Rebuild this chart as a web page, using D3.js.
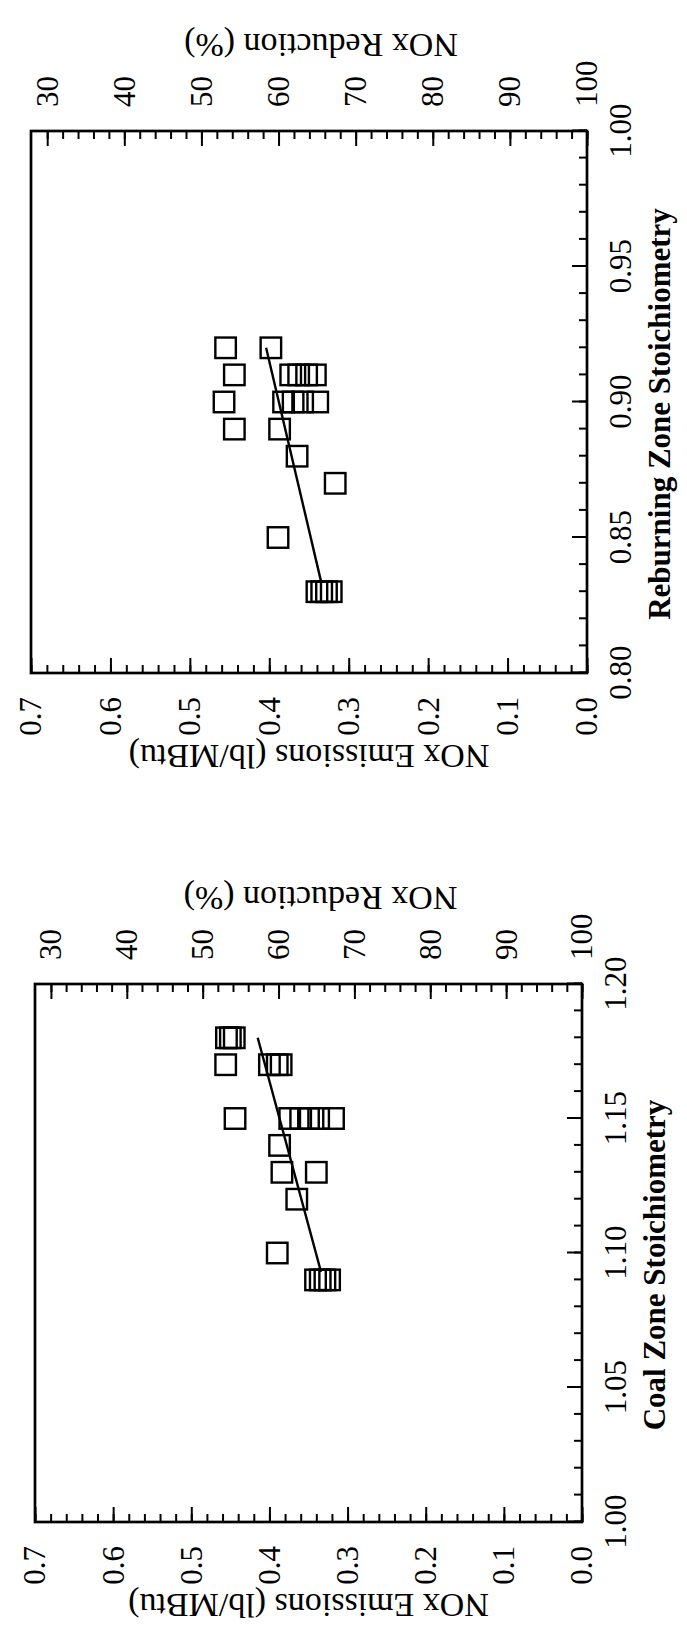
<!DOCTYPE html>
<html><head><meta charset="utf-8">
<script src="https://cdn.jsdelivr.net/npm/d3@7"></script>
<style>
body{margin:0;background:#fff;}
svg text{font-family:"Liberation Serif","Times New Roman",serif;fill:#000;}
</style>
</head><body>
<svg id="c" width="687" height="1637"></svg>
<script>
// ---- Data: Reburning zone panel (top) ----
const reburnStoich = [0.92,0.92,0.91,0.91,0.91,0.91,0.91,0.90,0.90,0.90,0.90,0.90,0.89,0.89,0.88,0.87,0.85,0.83,0.83,0.83,0.83];
const reburnNOx    = [0.455,0.398,0.444,0.373,0.363,0.353,0.342,0.457,0.382,0.370,0.358,0.339,0.444,0.387,0.365,0.317,0.389,0.340,0.334,0.328,0.322];
const reburnFitStoich = [0.834,0.92];
const reburnFitNOx    = [0.335,0.404];
const reburnTicks = [0.80,0.85,0.90,0.95,1.00];

// ---- Data: Coal zone panel (bottom) ----
const coalStoich = [1.18,1.18,1.18,1.17,1.17,1.17,1.17,1.15,1.15,1.15,1.15,1.15,1.15,1.14,1.13,1.13,1.12,1.10,1.09,1.09,1.09,1.09];
const coalNOx    = [0.455,0.450,0.445,0.456,0.400,0.390,0.385,0.444,0.374,0.360,0.350,0.337,0.318,0.387,0.384,0.340,0.365,0.390,0.341,0.335,0.329,0.323];
const coalFitStoich = [1.093,1.18];
const coalFitNOx    = [0.334,0.415];
const coalTicks = [1.00,1.05,1.10,1.15,1.20];

// ---- Shared axes ----
const emissionTicks  = [0.0,0.1,0.2,0.3,0.4,0.5,0.6,0.7];
const reductionTicks = [30,40,50,60,70,80,90,100];
const reductionDomain = [27.9,100];

const svg = d3.select("#c");

function panel(o){
  const W = o.bottom - o.top;   // stoichiometry axis length (local x)
  const H = o.right - o.left;   // emission axis length (local y)
  const g = svg.append("g").attr("transform",`translate(${o.left},${o.bottom}) rotate(-90)`);
  const x = d3.scaleLinear().domain([o.ticks[0], o.ticks[o.ticks.length-1]]).range([0,W]);
  const y = d3.scaleLinear().domain([0,0.7]).range([H,0]);
  const yR = d3.scaleLinear().domain(reductionDomain).range([0,H]);
  const fs = 31;

  function styleAxis(sel){
    sel.select(".domain").remove();
    sel.selectAll(".tick line").attr("stroke","#000").attr("stroke-width",2);
    sel.selectAll("text").attr("font-size",fs).attr("font-family","Liberation Serif, serif").attr("fill","#000");
    sel.attr("font-family",null).attr("font-size",null);
  }
  // minor ticks
  const x0 = o.ticks[0], x1 = o.ticks[o.ticks.length-1];
  const xMinor = d3.range(0,21).map(i=>x0 + i*(x1-x0)/20);
  const eMinor = d3.range(0,36).map(i=>i*0.02);
  const rMinor = d3.range(0,36).map(i=>30+i*2);
  g.append("g").attr("transform",`translate(0,${H})`).call(d3.axisBottom(x).tickValues(xMinor).tickSize(-8).tickSizeOuter(0).tickFormat("")).call(styleAxis);
  g.append("g").call(d3.axisLeft(y).tickValues(eMinor).tickSize(-8).tickSizeOuter(0).tickFormat("")).call(styleAxis);
  g.append("g").attr("transform",`translate(${W},0)`).call(d3.axisRight(yR).tickValues(rMinor).tickSize(-8).tickSizeOuter(0).tickFormat("")).call(styleAxis);
  // major ticks + labels
  g.append("g").attr("transform",`translate(0,${H})`).call(d3.axisBottom(x).tickValues(o.ticks).tickSize(-15).tickSizeOuter(0).tickPadding(22).tickFormat(d3.format(".2f"))).call(styleAxis);
  g.append("g").call(d3.axisLeft(y).tickValues(emissionTicks).tickSize(-15).tickSizeOuter(0).tickPadding(24).tickFormat(d3.format(".1f"))).call(styleAxis);
  g.append("g").attr("transform",`translate(${W},0)`).call(d3.axisRight(yR).tickValues(reductionTicks).tickSize(-15).tickSizeOuter(0).tickPadding(24).tickFormat(d3.format("d"))).call(styleAxis);

  // frame
  g.append("rect").attr("x",0).attr("y",0).attr("width",W).attr("height",H)
    .attr("fill","none").attr("stroke","#000").attr("stroke-width",2.7);

  // titles
  g.append("text").attr("transform",`translate(${-80},${H/2}) rotate(-90)`)
    .attr("text-anchor","middle").attr("dominant-baseline","middle").attr("font-size",34)
    .text("NOx Emissions (lb/MBtu)");
  g.append("text").attr("transform",`translate(${W+89},${H/2+12}) rotate(-90)`)
    .attr("text-anchor","middle").attr("dominant-baseline","middle").attr("font-size",34)
    .text("NOx Reduction (%)");
  g.append("text").attr("x",W/2-12).attr("y",H+76)
    .attr("text-anchor","middle").attr("dominant-baseline","middle").attr("font-size",31).attr("font-weight","bold")
    .text(o.title);

  // points
  const pts = o.sx.map((s,i)=>({s, e:o.ny[i]}));
  const sq = 20.5;
  g.append("g").selectAll("rect").data(pts).join("rect")
    .attr("x",d=>x(d.s)-sq/2).attr("y",d=>y(d.e)-sq/2).attr("width",sq).attr("height",sq)
    .attr("fill","none").attr("stroke","#000").attr("stroke-width",2.4);

  // fit line
  const fit = o.fx.map((s,i)=>[s,o.fy[i]]);
  g.append("path").datum(fit).attr("d",d3.line().x(d=>x(d[0])).y(d=>y(d[1])))
    .attr("fill","none").attr("stroke","#000").attr("stroke-width",2.4);
}

panel({left:31,right:587,top:131,bottom:673,ticks:reburnTicks,title:"Reburning Zone Stoichiometry",
       sx:reburnStoich,ny:reburnNOx,fx:reburnFitStoich,fy:reburnFitNOx});
panel({left:35,right:582,top:984,bottom:1522,ticks:coalTicks,title:"Coal Zone Stoichiometry",
       sx:coalStoich,ny:coalNOx,fx:coalFitStoich,fy:coalFitNOx});
</script>
</body></html>
